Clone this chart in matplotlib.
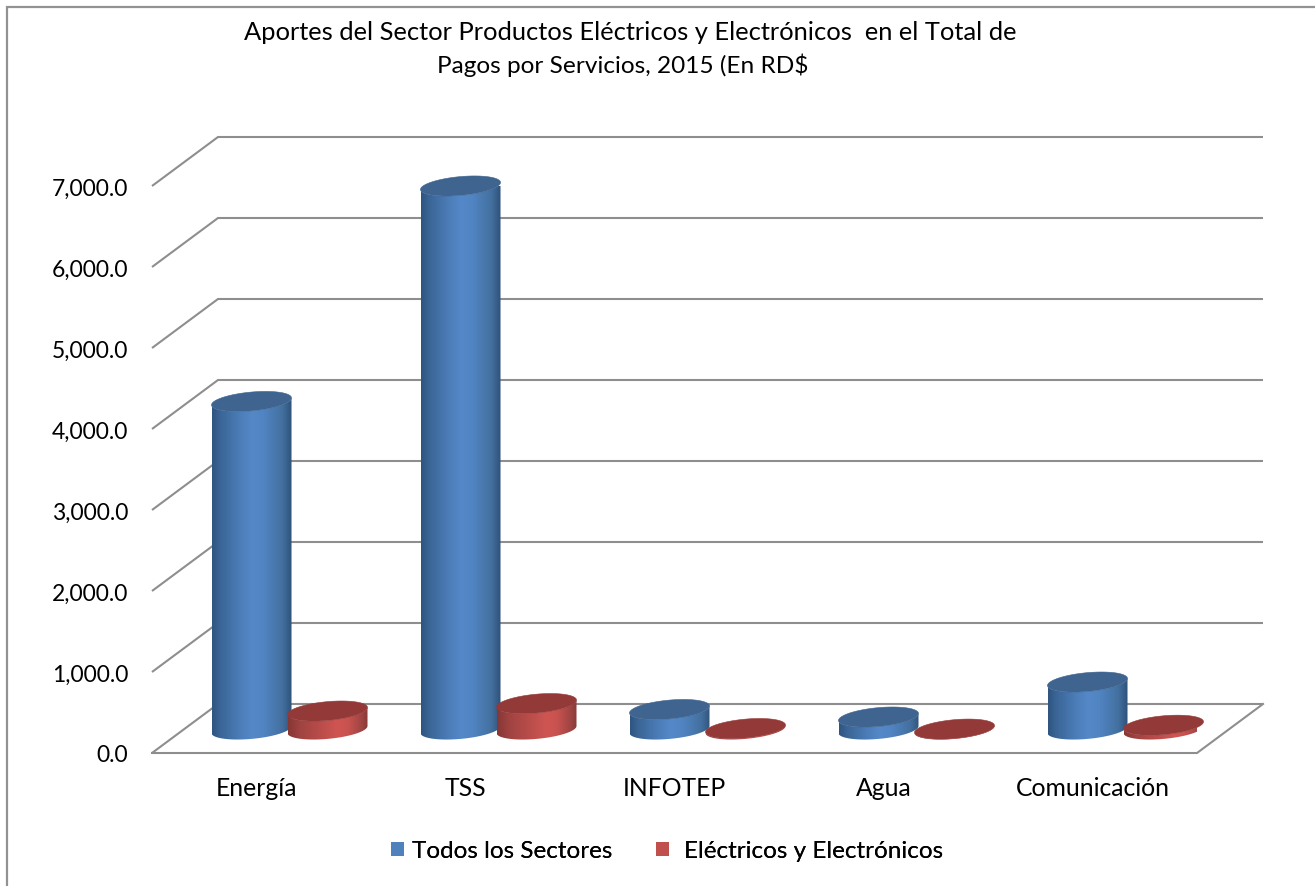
import numpy as np
import matplotlib
matplotlib.use("Agg")
import matplotlib.pyplot as plt
from matplotlib.colors import LinearSegmentedColormap
from matplotlib.lines import Line2D
from matplotlib.patches import Patch, Polygon
from matplotlib.transforms import Affine2D

plt.rcParams['font.family'] = ['Lato', 'DejaVu Sans']

categories = ["Energía", "TSS", "INFOTEP", "Agua", "Comunicación"]
todos = [4050, 6710, 247, 154, 586]
electricos = [228, 320, 12, 5, 53]
series_names = ["Todos los Sectores", "Eléctricos y Electrónicos"]
yticks = [0, 1000, 2000, 3000, 4000, 5000, 6000, 7000]
title_lines = ["Aportes del Sector Productos Eléctricos y Electrónicos  en el Total de",
               "Pagos por Servicios, 2015 (En RD$"]

W, H = 1315, 886
fig = plt.figure(figsize=(W / 100, H / 100), dpi=100, facecolor="white")

# axes: front plane of the 3D box, in pixels of the figure
AX_L, AX_R, AX_B, AX_T = 152, 1197, 753, 186
ax = fig.add_axes([AX_L / W, 1 - AX_B / H, (AX_R - AX_L) / W, (AX_B - AX_T) / H])
ax.set_xlim(0, 5)
ax.set_ylim(0, 7000)
PX_X = 5 / (AX_R - AX_L)
PX_Y = 7000 / (AX_B - AX_T)

DEPTH_X, DEPTH_Y = 66 * PX_X, 49 * PX_Y
GRID = "#8e8e8e"

for v in yticks:
    ax.plot([0, DEPTH_X, 5 + DEPTH_X], [v, v + DEPTH_Y, v + DEPTH_Y], color=GRID,
            lw=1.5, clip_on=False, zorder=1, solid_capstyle="butt", solid_joinstyle="miter")
ax.plot([0, 5, 5 + DEPTH_X], [0, 0, DEPTH_Y], color=GRID, lw=1.5, clip_on=False,
        zorder=1, solid_joinstyle="miter")

for s in ax.spines.values():
    s.set_visible(False)
ax.patch.set_visible(False)
ax.set_yticks(yticks)
ax.set_yticklabels([f"{v:,.1f}" for v in yticks], fontsize=16.5, color="black")
ax.set_xticks(np.arange(5) + 0.5)
ax.set_xticklabels(categories, fontsize=17.8, color="black")
ax.tick_params(axis="both", length=0)
ax.tick_params(axis="y", pad=17)
ax.tick_params(axis="x", pad=17)
for lab in ax.get_yticklabels():
    lab.set_transform(lab.get_transform() + Affine2D().translate(0, -1))

blue_cm = LinearSegmentedColormap.from_list("b", [(0, "#2f5580"), (0.1, "#3a6596"), (0.35, "#4c7db8"),
                                                  (0.5, "#5488c8"), (0.65, "#5084c2"), (0.88, "#43709f"),
                                                  (1, "#2f5279")])
red_cm = LinearSegmentedColormap.from_list("r", [(0, "#853735"), (0.15, "#a04341"), (0.62, "#cf5552"),
                                                 (0.75, "#c9524f"), (0.92, "#a04543"), (1, "#883a38")])

A, B, K = 40 * PX_X, 9.4 * PX_Y, 3.5 * PX_Y  # half width, half height, shear
BASE_X, BASE_Y = 33 * PX_X, 23.5 * PX_Y       # base centre inside the floor
OFFSET = 38 * PX_X


def cylinder(xc, value, cmap, top_color, z):
    t = np.linspace(0, 2 * np.pi, 181)
    cx = xc + BASE_X
    y0 = BASE_Y
    y1 = BASE_Y + value
    tf = np.linspace(np.pi, 2 * np.pi, 91)
    xs = cx + A * np.cos(tf)
    low = y0 + B * np.sin(tf) + K * np.cos(tf)
    high = y1 + B * np.sin(tf) + K * np.cos(tf)
    body = Polygon(np.r_[np.c_[xs, low], np.c_[xs[::-1], high[::-1]]], closed=True,
                   fc="none", ec="none", zorder=z)
    ax.add_patch(body)
    grad = np.linspace(0, 1, 256).reshape(1, -1)
    im = ax.imshow(grad, cmap=cmap, extent=[cx - A, cx + A, y0 - 2 * B, y1 + 2 * B],
                   aspect="auto", origin="lower", zorder=z, interpolation="bilinear")
    im.set_clip_path(body)
    ax.fill(cx + A * np.cos(t), y1 + B * np.sin(t) + K * np.cos(t), fc=top_color,
            ec=top_color, lw=0.4, zorder=z + 0.1, clip_on=False)


for i in range(5):
    cylinder(i + 0.5 - OFFSET, todos[i], blue_cm, "#3e648f", 3 + i * 2)
    cylinder(i + 0.5 + OFFSET, electricos[i], red_cm, "#933a38", 3 + i * 2 + 1)

ax.set_xlim(0, 5)
ax.set_ylim(0, 7000)

fig.text(630 / W, 1 - 32 / H, title_lines[0], ha="center", va="center", fontsize=18.35, color="black")
fig.text(623 / W, 1 - 65 / H, title_lines[1], ha="center", va="center", fontsize=17.6, color="black")

# frame: top and left only
fig.add_artist(Line2D([7 / W, 7 / W, 1], [0, 1 - 7 / H, 1 - 7 / H], color="#929292", lw=1.6,
                      solid_joinstyle="miter"))

colors = ["#4f81bd", "#c0504d"]
lefts = [391, 656]
pads = [8, 15]
for name, col, left, pad in zip(series_names, colors, lefts, pads):
    fs = 17.5
    px_per_em = fs * 100 / 72
    fig.add_artist(fig.legend([Patch(fc=col, ec="none")], [name], loc="center left",
                              bbox_to_anchor=(left / W, 1 - 851 / H), frameon=False, fontsize=fs,
                              handlelength=13 / px_per_em, handleheight=13 / px_per_em,
                              handletextpad=pad / px_per_em, borderpad=0, borderaxespad=0))

fig.savefig("out.png", dpi=100, facecolor="white")
